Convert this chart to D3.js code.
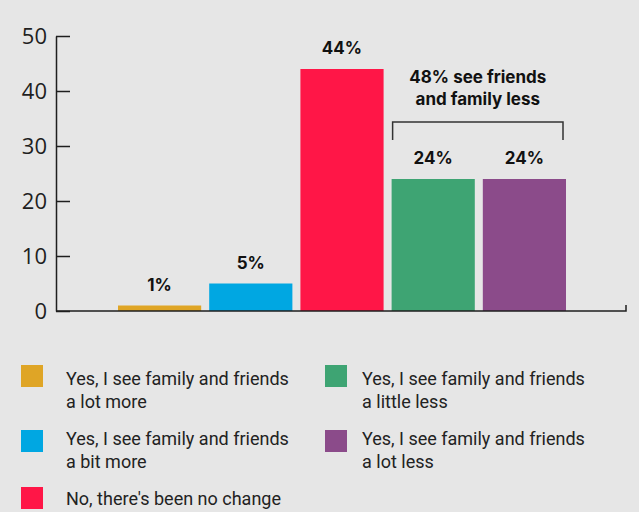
<!DOCTYPE html>
<html>
<head>
<meta charset="utf-8">
<script src="https://cdn.jsdelivr.net/npm/d3@7"></script>
<style>
  html, body { margin: 0; padding: 0; background: #e6e6e6; }
  svg { display: block; }
</style>
</head>
<body>
<script>
// Survey answers: has the way you see family and friends changed?
const categories = ["a lot more", "a bit more", "no change", "a little less", "a lot less"];
const shares = [1, 5, 44, 24, 24];
const barLabels = ["1%", "5%", "44%", "24%", "24%"];
const colors = ["#dfa526", "#00a7e2", "#ff1647", "#3ea473", "#8b4b8a"];
const legendLines = [
  ["Yes, I see family and friends", "a lot more"],
  ["Yes, I see family and friends", "a bit more"],
  ["No, there's been no change"],
  ["Yes, I see family and friends", "a little less"],
  ["Yes, I see family and friends", "a lot less"]
];
const yTicks = [0, 10, 20, 30, 40, 50];
const annotationLines = ["48% see friends", "and family less"];

const W = 639, H = 512;
const svg = d3.select("body").append("svg").attr("width", W).attr("height", H);
svg.append("rect").attr("width", W).attr("height", H).attr("fill", "#e6e6e6");

const y = d3.scaleLinear().domain([0, 50]).range([311, 36]);
const x = d3.scaleBand().domain(categories).range([118, 566]).paddingInner(0.088).paddingOuter(0);

const ink = "#1f1f1f";
const boldFont = "Inter, 'Noto Sans', sans-serif";

// Y axis: ticks point into the plot, labels to the left
const yAxis = svg.append("g")
  .attr("transform", "translate(56,0)")
  .call(d3.axisLeft(y).tickValues(yTicks).tickSizeInner(-14).tickSizeOuter(0).tickPadding(9));
yAxis.select(".domain").attr("stroke", ink).attr("stroke-width", 1.5);
yAxis.selectAll(".tick line").attr("stroke", ink).attr("stroke-width", 1.5);
yAxis.selectAll(".tick text")
  .attr("fill", ink)
  .style("font-family", "'Open Sans', sans-serif")
  .style("font-size", "22px");

// Bars
svg.append("g").selectAll("rect")
  .data(categories)
  .join("rect")
  .attr("x", d => x(d))
  .attr("width", x.bandwidth())
  .attr("y", (d, i) => y(shares[i]))
  .attr("height", (d, i) => y(0) - y(shares[i]))
  .attr("fill", (d, i) => colors[i]);

// Baseline with a small end tick
svg.append("path")
  .attr("d", `M56,${y(0)}H626V${y(0) - 6}`)
  .attr("fill", "none").attr("stroke", ink).attr("stroke-width", 1.5);

// Value labels above bars
svg.append("g").selectAll("text")
  .data(categories)
  .join("text")
  .attr("x", d => x(d) + x.bandwidth() / 2)
  .attr("y", (d, i) => y(shares[i]) - 15)
  .attr("text-anchor", "middle")
  .attr("fill", "#111")
  .style("font-family", boldFont)
  .style("font-weight", 700)
  .style("font-size", "17px")
  .text((d, i) => barLabels[i]);

// Bracket grouping the two "less" answers
const lessTop = y(Math.max(shares[3], shares[4])) - 15;
const bx0 = x(categories[3]) + 1, bx1 = x(categories[4]) + x.bandwidth() - 3;
const bBottom = lessTop - 24, bTop = bBottom - 18;
svg.append("path")
  .attr("d", `M${bx0},${bBottom}V${bTop}H${bx1}V${bBottom}`)
  .attr("fill", "none").attr("stroke", "#333").attr("stroke-width", 1.5);
svg.append("g").selectAll("text")
  .data(annotationLines)
  .join("text")
  .attr("x", (bx0 + bx1) / 2)
  .attr("y", (d, i) => bTop - 39 + i * 22)
  .attr("text-anchor", "middle")
  .attr("fill", "#111")
  .style("font-family", boldFont)
  .style("font-weight", 700)
  .style("font-size", "17px")
  .text(d => d);

// Legend: two columns (swatch position, text x, first baseline)
const legendPos = [
  { x: 21, y: 365, tx: 66, ty: 385 },
  { x: 21, y: 430, tx: 66, ty: 445 },
  { x: 21, y: 487, tx: 66, ty: 505 },
  { x: 325, y: 365, tx: 362, ty: 385 },
  { x: 325, y: 430, tx: 362, ty: 445 }
];
const items = svg.append("g").selectAll("g")
  .data(categories)
  .join("g");
items.append("rect")
  .attr("x", (d, i) => legendPos[i].x)
  .attr("y", (d, i) => legendPos[i].y)
  .attr("width", 22).attr("height", 22)
  .attr("fill", (d, i) => colors[i]);
items.each(function (d, i) {
  const p = legendPos[i];
  const t = d3.select(this).append("text")
    .attr("fill", "#222")
    .style("font-family", "Roboto, sans-serif")
    .style("font-size", "18px");
  legendLines[i].forEach((line, j) => {
    t.append("tspan").attr("x", p.tx).attr("y", p.ty + j * 23).text(line);
  });
});
</script>
</body>
</html>
